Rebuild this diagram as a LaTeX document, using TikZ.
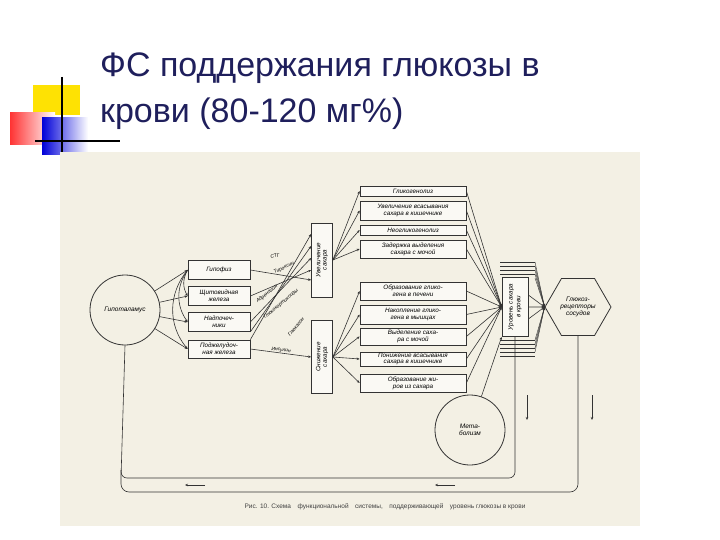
\documentclass[tikz,border=0pt]{standalone}
\usepackage{fontspec}
\setmainfont{Liberation Sans}
\usetikzlibrary{shapes.geometric,arrows.meta}
\begin{document}
\begin{tikzpicture}[x=1pt,y=-1pt,
  ln/.style={draw=black!80,line width=0.6pt},
  ar/.style={ln,-{Stealth[length=3pt,width=2.5pt]}},
  bx/.style={draw=black!80,line width=0.7pt,fill=white!60!paper,inner sep=0pt,font=\fontsize{6.3}{6.8}\selectfont\itshape,align=center},
  lbl/.style={font=\fontsize{5}{5.5}\selectfont\itshape,inner sep=0.3pt}]
\definecolor{paper}{HTML}{F3F0E4}
\definecolor{navy}{HTML}{1F1F5C}
\useasboundingbox (0,0) rectangle (720,540);
\fill[white] (0,0) rectangle (720,540);
% decoration
\fill[yellow!85!orange] (33,85) rectangle (80,115);
\shade[left color=red!80,right color=white] (10,113) rectangle (55,145);
\shade[left color=blue!85!black,right color=white] (42,118) rectangle (88,155);
\draw[line width=1.5pt] (62,77) -- (62,157);
\draw[line width=1.5pt] (35,141) -- (120,141);
% title
\node[anchor=base west,text=navy,inner sep=0,font=\fontsize{34}{36}\selectfont] (t1) at (100,77) {ФС поддержания глюкозы в};
\node[anchor=base west,text=navy,inner sep=0,font=\fontsize{34}{36}\selectfont] (t2) at (100,123) {крови (80-120 мг\%)};
% paper
\fill[paper] (60,152) rectangle (640,526);
% nodes
\node[circle,draw=black!80,line width=0.8pt,minimum size=70pt,font=\fontsize{6.5}{7}\selectfont\itshape] (hyp) at (125,310) {Гипоталамус};
\node[bx,minimum width=62pt,minimum height=19pt] (g1) at (219,270) {Гипофиз};
\node[bx,minimum width=62pt,minimum height=19pt] (g2) at (219,296) {Щитовидная\\железа};
\node[bx,minimum width=62pt,minimum height=19pt] (g3) at (219,322) {Надпочеч-\\ники};
\node[bx,minimum width=62pt,minimum height=18pt] (g4) at (219,349) {Поджелудоч-\\ная железа};
\node[bx,minimum width=21pt,minimum height=74pt] (up) at (322,260) {\rotatebox{90}{\shortstack{Увеличение\\сахара}}};
\node[bx,minimum width=21pt,minimum height=73pt] (dn) at (322,357) {\rotatebox{90}{\shortstack{Снижение\\сахара}}};
\foreach \n/\y/\h/\t in {r1/191/10/Гликогенолиз, r2/210.5/19/{Увеличение всасывания\\сахара в кишечнике}, r3/230/10/Неогликогенолиз, r4/249/18/{Задержка выделения\\сахара с мочой}, r5/291/18/{Образование глико-\\гена в печени}, r6/314.5/19/{Накопление глико-\\гена в мышцах}, r7/336.5/17/{Выделение саха-\\ра с мочой}, r8/359/14/{Понижение всасывания\\сахара в кишечнике}, r9/383/18/{Образование жи-\\ров из сахара}}
  \node[bx,minimum width=106pt,minimum height=\h pt] (\n) at (413,\y) {\t};
\node[bx,minimum width=26pt,minimum height=59pt] (bl) at (515,307) {\rotatebox{90}{\shortstack{Уровень сахара\\в крови}}};
\node[regular polygon,regular polygon sides=6,draw=black!80,line width=0.8pt,minimum size=66pt,inner sep=0pt,font=\fontsize{6.5}{7}\selectfont\itshape,align=center] (hex) at (578,307) {Глюкоз-\\рецепторы\\сосудов};
\node[circle,draw=black!80,line width=0.8pt,minimum size=70pt,font=\fontsize{6.5}{7}\selectfont\itshape,align=center] (met) at (470,430) {Мета-\\болизм};
% hypothalamus to glands
\foreach \g in {g1,g2,g3,g4} \draw[ar] (hyp) -- (\g.west);
\draw[ar] (g1.west) to[bend right=30] (g2.west);
\draw[ar] (g1.west) to[bend right=35] (g3.west);
\draw[ar] (g1.west) to[bend right=40] (g4.west);
% hormones
\draw[ar] (g1.east) -- ([yshift=-20pt]up.west);
\draw[ar] (g2.east) -- ([yshift=-10pt]up.west);
\draw[ar] (g3.east) -- ([yshift=2pt]up.west);
\draw[ar] (g3.south east) -- ([yshift=14pt]up.west);
\draw[ar] (g4.north east) -- ([yshift=26pt]up.west);
\draw[ar] (g4.east) -- node[lbl,above,sloped]{Инсулин} (dn.west);
\node[lbl,rotate=12] (h1) at (275,256) {СТГ};
\node[lbl,rotate=25] (h2) at (284,268) {Тироксин};
\node[lbl,rotate=38] (h3) at (267,294) {Адреналин};
\node[lbl,rotate=40] (h4) at (281,304) {Глюкокортикоиды};
\node[lbl,rotate=50] (h5) at (296,327) {Глюкагон};
% effects
\foreach \r in {r1,r2,r3,r4} \draw[ar] (up.east) -- (\r.west);
\foreach \r in {r5,r6,r7,r8,r9} \draw[ar] (dn.east) -- (\r.west);
\foreach \r in {r1,r2,r3,r4,r5,r6,r7,r8,r9} \draw[ar] (\r.east) -- (bl.west);
\draw[ar] (met) -- (bl.south west);
% blood bundle lines
\foreach \y in {262,266,270,274,340,344,348,352,356} \draw[ln,line width=0.4pt] (500,\y) -- (535,\y);
\foreach \y in {262,266,270,274,278} \draw[ar,line width=0.4pt] (535,\y) -- (hex.west);
\foreach \y in {340,344,348,352} \draw[ar,line width=0.4pt] (535,\y) -- (hex.west);
\draw[ar] (bl.east) -- (hex.west);
\draw[ar] ([yshift=-12pt]bl.east) -- (hex.west);
\draw[ar] ([yshift=12pt]bl.east) -- (hex.west);
% feedback
\coordinate (c1) at (515,478);
\coordinate (c2) at (121,478);
\coordinate (c3) at (578,492);
\coordinate (c4) at (121,492);
\draw[ln,rounded corners=6pt] (bl.south) -- (c1) -- (c2) -- (hyp.south);
\draw[ln,rounded corners=8pt] (hex.south) -- (c3) -- (c4) -- (121,470);
\draw[ar] (527,395) -- (527,420);
\draw[ar] (592,395) -- (592,420);
\draw[ar] (205,485) -- (185,485);
\draw[ar] (455,485) -- (435,485);
\node[font=\fontsize{6.5}{7}\selectfont,text=black!75] (cap) at (385,507) {Рис. 10. Схема\quad функциональной\quad системы,\quad поддерживающей\quad уровень глюкозы в крови};
\end{tikzpicture}
\end{document}
